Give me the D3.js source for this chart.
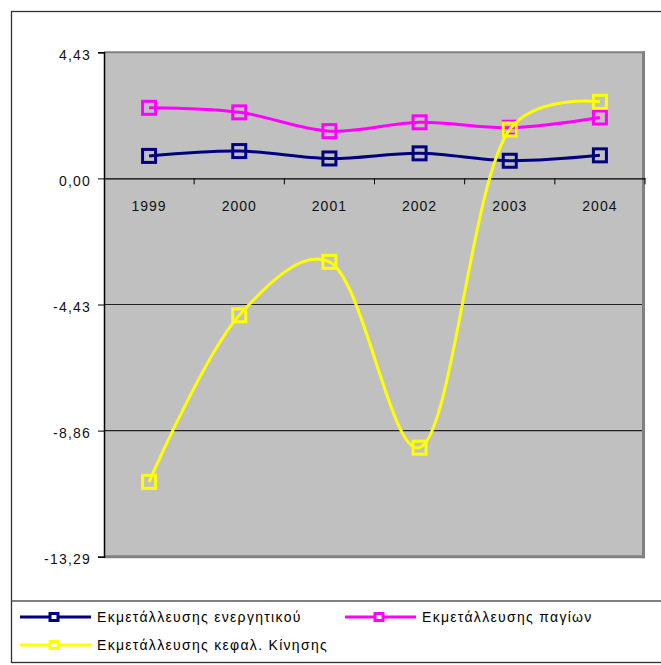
<!DOCTYPE html>
<html>
<head>
<meta charset="utf-8">
<script src="https://cdn.jsdelivr.net/npm/d3@7"></script>
<style>
  html, body { margin: 0; padding: 0; background: #fff; }
  svg { display: block; }
  text { font-family: "Liberation Sans", Arial, sans-serif; }
</style>
</head>
<body>
<svg id="chart" width="661" height="665"></svg>
<script>
// Years on the category axis
const years = ["1999", "2000", "2001", "2002", "2003", "2004"];

// Series values
const energitikou = [0.79, 0.96, 0.70, 0.88, 0.62, 0.81];
const pagion = [2.48, 2.32, 1.66, 1.97, 1.78, 2.14];
const kefalKinisis = [-10.66, -4.81, -2.93, -9.46, 1.72, 2.69];

// Value axis ticks
const yTicks = [4.43, 0.00, -4.43, -8.86, -13.29];
const yTickLabels = ["4,43", "0,00", "-4,43", "-8,86", "-13,29"];

const seriesNames = [
  "Εκμετάλλευσης ενεργητικού",
  "Εκμετάλλευσης παγίων",
  "Εκμετάλλευσης κεφαλ. Κίνησης"
];
const seriesColors = ["#000080", "#FF00FF", "#FFFF00"];

const series = [
  { name: seriesNames[0], color: seriesColors[0], values: energitikou },
  { name: seriesNames[1], color: seriesColors[1], values: pagion },
  { name: seriesNames[2], color: seriesColors[2], values: kefalKinisis }
];

const svg = d3.select("#chart");

// Plot area
const plot = { left: 104, right: 645, top: 52.3, bottom: 556.7 };

const x = d3.scaleBand().domain(years).range([plot.left, plot.right]).padding(0);
const y = d3.scaleLinear().domain([-13.29, 4.43]).range([plot.bottom, plot.top]);

// Outer frame of the chart
svg.append("rect")
  .attr("x", 11.5).attr("y", 11.5)
  .attr("width", 670).attr("height", 651)
  .attr("fill", "none").attr("stroke", "#333").attr("stroke-width", 1.3);

// Legend separator
svg.append("line")
  .attr("x1", 11.5).attr("x2", 661)
  .attr("y1", 601).attr("y2", 601)
  .attr("stroke", "#555").attr("stroke-width", 1.3);

// Plot background
svg.append("rect")
  .attr("x", plot.left).attr("y", plot.top)
  .attr("width", plot.right - plot.left).attr("height", plot.bottom - plot.top)
  .attr("fill", "#C0C0C0");

// Gridlines
svg.append("g")
  .selectAll("line")
  .data(yTicks.filter(v => v < 0 && v > -13))
  .join("line")
  .attr("x1", plot.left).attr("x2", plot.right - 2)
  .attr("y1", d => y(d)).attr("y2", d => y(d))
  .attr("stroke", "#222").attr("stroke-width", 1.2);

// Plot border (shaded on top, right and bottom)
svg.append("line")
  .attr("x1", plot.left).attr("x2", plot.right)
  .attr("y1", plot.top).attr("y2", plot.top)
  .attr("stroke", "#808080").attr("stroke-width", 2);
svg.append("line")
  .attr("x1", plot.right - 1.5).attr("x2", plot.right - 1.5)
  .attr("y1", plot.top - 1).attr("y2", plot.bottom + 1.5)
  .attr("stroke", "#808080").attr("stroke-width", 3);
svg.append("line")
  .attr("x1", plot.left).attr("x2", plot.right)
  .attr("y1", plot.bottom).attr("y2", plot.bottom)
  .attr("stroke", "#808080").attr("stroke-width", 3);

// Value axis
const yAxis = d3.axisLeft(y)
  .tickValues(yTicks)
  .tickSize(6)
  .tickFormat((d, i) => yTickLabels[i]);
const gy = svg.append("g")
  .attr("transform", `translate(${plot.left},0)`)
  .call(yAxis);
gy.select(".domain").attr("stroke", "#000").attr("stroke-width", 1.5);
gy.selectAll(".tick line").attr("stroke", "#000").attr("stroke-width", 1);
gy.selectAll(".tick text")
  .attr("x", -13)
  .attr("dy", "0.5em")
  .attr("font-size", 14)
  .attr("letter-spacing", 1.2)
  .attr("fill", "#111")
  .attr("font-family", "'Liberation Sans', Arial, sans-serif");

// Category axis crossing at zero
const xAxis = d3.axisBottom(x).tickSize(0).tickSizeOuter(0);
const gx = svg.append("g")
  .attr("transform", `translate(0,${y(0)})`)
  .call(xAxis);
gx.select(".domain").attr("stroke", "#000").attr("stroke-width", 1.2);
gx.selectAll(".tick text")
  .attr("y", 33)
  .attr("dy", 0)
  .attr("font-size", 14)
  .attr("letter-spacing", 1)
  .attr("fill", "#111")
  .attr("font-family", "'Liberation Sans', Arial, sans-serif");
// Tick marks on category boundaries
gx.append("g")
  .selectAll("line")
  .data(years.slice(1).concat(["end"]))
  .join("line")
  .attr("x1", d => d === "end" ? plot.right : x(d))
  .attr("x2", d => d === "end" ? plot.right : x(d))
  .attr("y1", 0).attr("y2", 6)
  .attr("stroke", "#000").attr("stroke-width", 1);

// Smoothed lines with square markers
const line = d3.line()
  .x((d, i) => x(years[i]) + x.bandwidth() / 2)
  .y(d => y(d))
  .curve(d3.curveCatmullRom.alpha(0.3));

const gs = svg.append("g")
  .selectAll("g")
  .data(series)
  .join("g");

gs.append("path")
  .attr("d", d => line(d.values))
  .attr("fill", "none")
  .attr("stroke", d => d.color)
  .attr("stroke-width", 3)
  .attr("stroke-linejoin", "round");

gs.selectAll("rect")
  .data(d => d.values.map((v, i) => ({ v, i, color: d.color })))
  .join("rect")
  .attr("x", d => x(years[d.i]) + x.bandwidth() / 2 - 6.5)
  .attr("y", d => y(d.v) - 6.5)
  .attr("width", 13).attr("height", 13)
  .attr("fill", "none")
  .attr("stroke", d => d.color)
  .attr("stroke-width", 3);

// Legend
const legendItems = [
  { s: series[0], lx: 20, ly: 617 },
  { s: series[1], lx: 345, ly: 617 },
  { s: series[2], lx: 20, ly: 645 }
];
const lg = svg.append("g")
  .selectAll("g")
  .data(legendItems)
  .join("g")
  .attr("transform", d => `translate(${d.lx},${d.ly})`);
lg.append("line")
  .attr("x1", 0).attr("x2", 71)
  .attr("y1", 0).attr("y2", 0)
  .attr("stroke", d => d.s.color).attr("stroke-width", 3);
lg.append("rect")
  .attr("x", 30).attr("y", -3.5)
  .attr("width", 8).attr("height", 7)
  .attr("fill", "#fff")
  .attr("stroke", d => d.s.color).attr("stroke-width", 3);
lg.append("text")
  .attr("x", 77).attr("y", 5)
  .attr("font-size", 14)
  .attr("letter-spacing", 1.3)
  .attr("fill", "#000")
  .text(d => d.s.name);
</script>
</body>
</html>
